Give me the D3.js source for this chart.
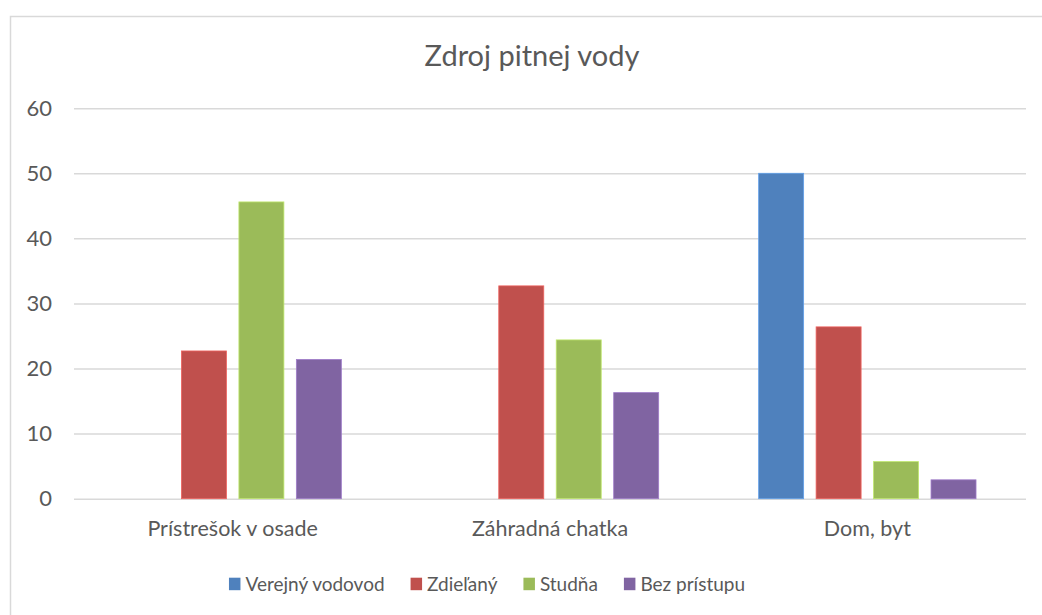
<!DOCTYPE html>
<html>
    <head>
        <meta charset="utf-8">
        <style>
            body { margin: 0; background: #fff; }
            text { font-family: Lato, "Open Sans", sans-serif; fill: #595959; }
        </style>
    </head>
    <body>
        <svg></svg>

        <script src="https://d3js.org/d3.v7.min.js"></script>

        <script>
            const categories = ["Prístrešok v osade", "Záhradná chatka", "Dom, byt"];
            const series = ["Verejný vodovod", "Zdieľaný", "Studňa", "Bez prístupu"];
            const colors = ["#4F81BD", "#C0504D", "#9BBB59", "#8064A2"];

            // values per category, in series order
            const verejny = [0, 0, 50.0];
            const zdielany = [22.7, 32.7, 26.4];
            const studna = [45.6, 24.4, 5.7];
            const bezPristupu = [21.4, 16.3, 2.9];

            const yTicks = [0, 10, 20, 30, 40, 50, 60];

            const width = 1042,
                height = 615;

            const svg = d3.select("svg")
                .attr("width", width)
                .attr("height", height);

            // chart frame
            svg.append("rect")
                .attr("x", 10.5)
                .attr("y", 16.5)
                .attr("width", width)
                .attr("height", height)
                .attr("fill", "none")
                .attr("stroke", "#d9d9d9")
                .attr("stroke-width", 1.5);

            const x0 = d3.scaleBand()
                .domain(categories)
                .range([74, 1026])
                .paddingInner(0.315)
                .paddingOuter(0.1575);

            const x1 = d3.scaleBand()
                .domain(series)
                .range([0, x0.bandwidth()])
                .paddingInner(0.217);

            const y = d3.scaleLinear()
                .domain([0, 60])
                .range([498.7, 108.2]);

            // gridlines and y labels
            const yAxis = svg.append("g")
                .attr("transform", "translate(74,0)")
                .call(d3.axisLeft(y)
                    .tickValues(yTicks)
                    .tickSize(-952)
                    .tickPadding(22));

            yAxis.select(".domain").remove();
            yAxis.selectAll("line")
                .attr("stroke", "#d9d9d9")
                .attr("stroke-width", 1.5);
            yAxis.selectAll("text")
                .style("font-size", "22px")
                .attr("fill", "#595959");

            // category labels
            const xAxis = svg.append("g")
                .attr("transform", "translate(0," + y(0) + ")")
                .call(d3.axisBottom(x0).tickSize(0).tickPadding(22));

            xAxis.select(".domain").remove();
            xAxis.selectAll("text")
                .style("font-size", "21.5px")
                .attr("fill", "#595959");

            // bars
            const rows = categories.map(function(c, i) {
                return [verejny[i], zdielany[i], studna[i], bezPristupu[i]];
            });

            const g = svg.selectAll("g.cat")
                .data(rows)
                .enter()
                .append("g")
                .attr("class", "cat")
                .attr("transform", function(d, i) { return "translate(" + x0(categories[i]) + ",0)"; });

            g.selectAll("rect")
                .data(function(d) { return d; })
                .enter()
                .append("rect")
                .attr("x", function(d, i) { return x1(series[i]); })
                .attr("y", function(d) { return y(d); })
                .attr("width", x1.bandwidth())
                .attr("height", function(d) { return y(0) - y(d); })
                .attr("fill", function(d, i) { return colors[i]; })
                .attr("stroke", function(d, i) { return d3.color(colors[i]).brighter(0.6); })
                .attr("stroke-width", function(d) { return d > 0 ? 0.8 : 0; });

            // title
            svg.append("text")
                .attr("x", 532)
                .attr("y", 66)
                .attr("text-anchor", "middle")
                .style("font-size", "29px")
                .text("Zdroj pitnej vody");

            // legend
            const legend = svg.append("g");
            let lx = 0;
            series.forEach(function(s, i) {
                const item = legend.append("g").attr("transform", "translate(" + lx + ",0)");
                item.append("rect")
                    .attr("x", 0)
                    .attr("y", 577.7)
                    .attr("width", 11.5)
                    .attr("height", 12.5)
                    .attr("fill", colors[i]);
                const t = item.append("text")
                    .attr("x", 16.5)
                    .attr("y", 591)
                    .style("font-size", "19px")
                    .text(s);
                lx += 16.5 + t.node().getComputedTextLength() + 26;
            });
            const legendWidth = lx - 26;
            legend.attr("transform", "translate(" + (487 - legendWidth / 2) + ",0)");
        </script>
    </body>
</html>
